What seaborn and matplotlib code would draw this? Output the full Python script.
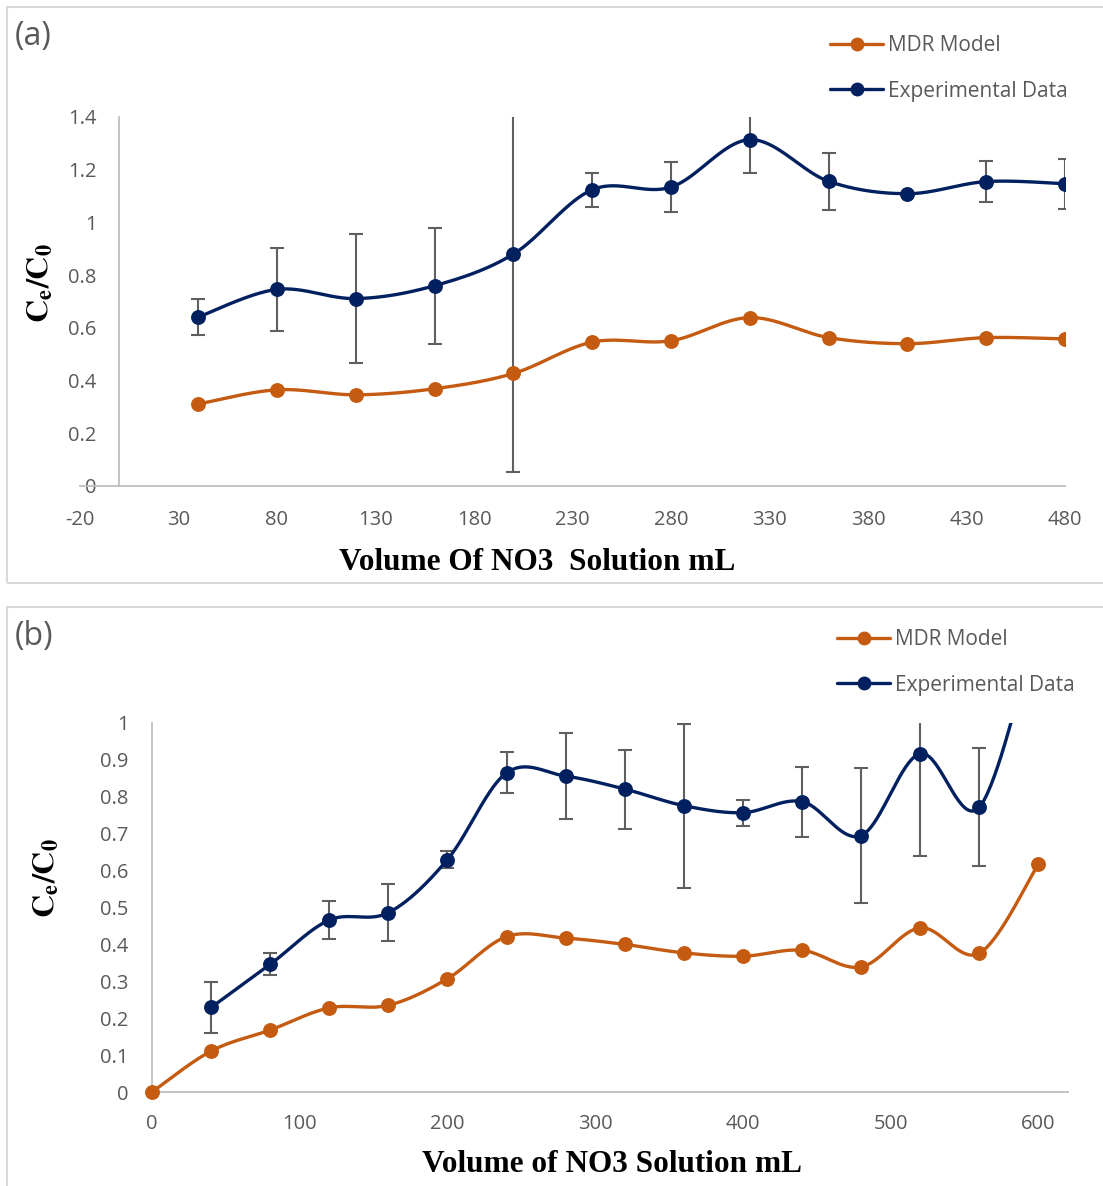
import numpy as np
import matplotlib
matplotlib.use("Agg")
import matplotlib.pyplot as plt
from matplotlib.lines import Line2D
from matplotlib.patches import Rectangle
import seaborn as sns

# ---------------- data ----------------
# panel (a)
vol_a = [40, 80, 120, 160, 200, 240, 280, 320, 360, 400, 440, 480]
mdr_a = [0.311, 0.365, 0.346, 0.369, 0.427, 0.546, 0.551, 0.639, 0.563, 0.540, 0.563, 0.558]
exp_a = [0.641, 0.746, 0.711, 0.760, 0.880, 1.124, 1.134, 1.314, 1.156, 1.109, 1.155, 1.147]
err_a = [0.068, 0.158, 0.245, 0.220, 0.826, 0.064, 0.094, 0.128, 0.109, 0.0, 0.079, 0.095]
xticks_a = [-20, 30, 80, 130, 180, 230, 280, 330, 380, 430, 480]
yticks_a = [0, 0.2, 0.4, 0.6, 0.8, 1.0, 1.2, 1.4]
yticklabels_a = ["0", "0.2", "0.4", "0.6", "0.8", "1", "1.2", "1.4"]

# panel (b)
vol_b_mdr = [0, 40, 80, 120, 160, 200, 240, 280, 320, 360, 400, 440, 480, 520, 560, 600]
mdr_b = [0.0, 0.111, 0.168, 0.228, 0.235, 0.307, 0.421, 0.417, 0.400, 0.377, 0.368,
         0.384, 0.339, 0.445, 0.376, 0.618]
vol_b_exp = [40, 80, 120, 160, 200, 240, 280, 320, 360, 400, 440, 480, 520, 560, 600]
exp_b = [0.229, 0.346, 0.466, 0.486, 0.630, 0.865, 0.856, 0.821, 0.776, 0.757, 0.787,
         0.695, 0.917, 0.772, 1.28]
err_b = [0.069, 0.030, 0.052, 0.078, 0.024, 0.056, 0.117, 0.107, 0.222, 0.035, 0.095,
         0.182, 0.277, 0.160, 0.0]
xticks_b = [0, 100, 200, 300, 400, 500, 600]
yticks_b = [0, 0.1, 0.2, 0.3, 0.4, 0.5, 0.6, 0.7, 0.8, 0.9, 1.0]
yticklabels_b = ["0", "0.1", "0.2", "0.3", "0.4", "0.5", "0.6", "0.7", "0.8", "0.9", "1"]

series_names = ["MDR Model", "Experimental Data"]

# ---------------- style ----------------
sns.set_theme(style="white")
plt.rcParams["font.family"] = ["Open Sans", "DejaVu Sans"]
plt.rcParams["mathtext.fontset"] = "stix"

ORANGE = "#C55A11"
NAVY = "#002060"
GREY_TXT = "#595959"
AXIS_GREY = "#BFBFBF"
ERR_GREY = "#5F5F5F"
W, H = 1103, 1186


def smooth(x, y, n=40):
    """Piecewise cubic Bezier through the points (Catmull-Rom style smoothing)."""
    p = np.column_stack([x, y]).astype(float)
    ext = np.vstack([p[0], p, p[-1]])
    segs = []
    for i in range(len(p) - 1):
        p0, p1, p2, p3 = ext[i], ext[i + 1], ext[i + 2], ext[i + 3]
        c1 = p1 + (p2 - p0) / 6.0
        c2 = p2 - (p3 - p1) / 6.0
        t = np.linspace(0, 1, n, endpoint=(i == len(p) - 2))[:, None]
        segs.append((1 - t) ** 3 * p1 + 3 * (1 - t) ** 2 * t * c1
                    + 3 * (1 - t) * t ** 2 * c2 + t ** 3 * p2)
    s = np.vstack(segs)
    return s[:, 0], s[:, 1]


def draw_series(ax, x, y, color, err=None, clip=True):
    sx, sy = smooth(x, y)
    sns.lineplot(x=sx, y=sy, sort=False, estimator=None, ax=ax, color=color,
                 lw=2.4, zorder=3)
    if err is not None:
        xa, ya, ea = np.asarray(x), np.asarray(y), np.asarray(err)
        m = ea > 0
        ax.errorbar(xa[m], ya[m], yerr=ea[m], fmt="none", ecolor=ERR_GREY,
                    elinewidth=1.5, capsize=4.7, capthick=1.5, zorder=2)
    sns.scatterplot(x=x, y=y, ax=ax, color=color, s=115, linewidth=0, zorder=4,
                    clip_on=clip)


def px_rect(l, t, r, b):
    return [l / W, 1 - b / H, (r - l) / W, (b - t) / H]


def style_axes(ax, xlim, ylim, xticks, yticks, yticklabels, ypad, xpad):
    ax.set_xlim(*xlim)
    ax.set_ylim(*ylim)
    ax.set_xticks(xticks)
    ax.set_xticklabels([str(v) for v in xticks])
    ax.set_yticks(yticks)
    ax.set_yticklabels(yticklabels)
    for s in ["top", "right"]:
        ax.spines[s].set_visible(False)
    for s in ["left", "bottom"]:
        ax.spines[s].set_color(AXIS_GREY)
        ax.spines[s].set_linewidth(1.3)
    ax.spines["left"].set_position(("data", 0))
    ax.tick_params(axis="both", length=0, labelsize=14.5, labelcolor=GREY_TXT)
    ax.tick_params(axis="y", pad=ypad)
    ax.tick_params(axis="x", pad=xpad)
    ax.set_xlabel("")
    ax.set_ylabel("")
    ax.set_facecolor("none")


fig = plt.figure(figsize=(W / 100, H / 100), dpi=100)

# panel frames
for (t, b) in [(7, 583), (607, 1200)]:
    fig.add_artist(Rectangle((7 / W, 1 - b / H), (W + 10 - 7) / W, (b - t) / H,
                             transform=fig.transFigure, fill=False,
                             ec="#D9D9D9", lw=1.5, zorder=0))

# ---------- panel (a) ----------
ax_a = fig.add_axes(px_rect(80, 117, 1065, 486))
draw_series(ax_a, vol_a, mdr_a, ORANGE)
draw_series(ax_a, vol_a, exp_a, NAVY, err_a)
style_axes(ax_a, (-20, 480), (0, 1.4), xticks_a, yticks_a, yticklabels_a, 16.5, 17)

# ---------- panel (b) ----------
ax_b = fig.add_axes(px_rect(152, 723, 1068, 1092))
draw_series(ax_b, vol_b_mdr, mdr_b, ORANGE, clip=False)
draw_series(ax_b, vol_b_exp, exp_b, NAVY, err_b)
style_axes(ax_b, (0, 620), (0, 1.0), xticks_b, yticks_b, yticklabels_b, 17, 16)

# axis titles
serif = ["Liberation Serif", "DejaVu Serif"]
fig.text(537 / W, 1 - 562 / H, "Volume Of NO3  Solution mL", ha="center", va="center",
         fontsize=22.5, fontweight="bold", family=serif, color="black")
fig.text(612 / W, 1 - 1164 / H, "Volume of NO3 Solution mL", ha="center", va="center",
         fontsize=22.5, fontweight="bold", family=serif, color="black")
fig.text(40 / W, 1 - 283 / H, r"$\mathbf{C_e/C_0}$", ha="center", va="center",
         rotation=90, fontsize=23, color="black")
fig.text(46 / W, 1 - 878 / H, r"$\mathbf{C_e/C_0}$", ha="center", va="center",
         rotation=90, fontsize=23, color="black")

# panel tags
fig.text(15 / W, 1 - 37 / H, "(a)", ha="left", va="center", fontsize=23, color=GREY_TXT)
fig.text(15 / W, 1 - 636 / H, "(b)", ha="left", va="center", fontsize=23, color=GREY_TXT)

# legends
handles = [Line2D([], [], color=ORANGE, lw=2.4, marker="o", markersize=10, markeredgewidth=0),
           Line2D([], [], color=NAVY, lw=2.4, marker="o", markersize=10, markeredgewidth=0)]
for (lx, ty) in [(830, 35), (837, 629)]:
    leg = fig.legend(handles, series_names, loc="upper left",
                     bbox_to_anchor=(lx / W, 1 - ty / H), frameon=False,
                     fontsize=15, handlelength=2.55, handletextpad=0.25,
                     labelspacing=1.18, borderpad=0, borderaxespad=0)
    for txt in leg.get_texts():
        txt.set_color(GREY_TXT)

fig.savefig("out.png", dpi=100)
